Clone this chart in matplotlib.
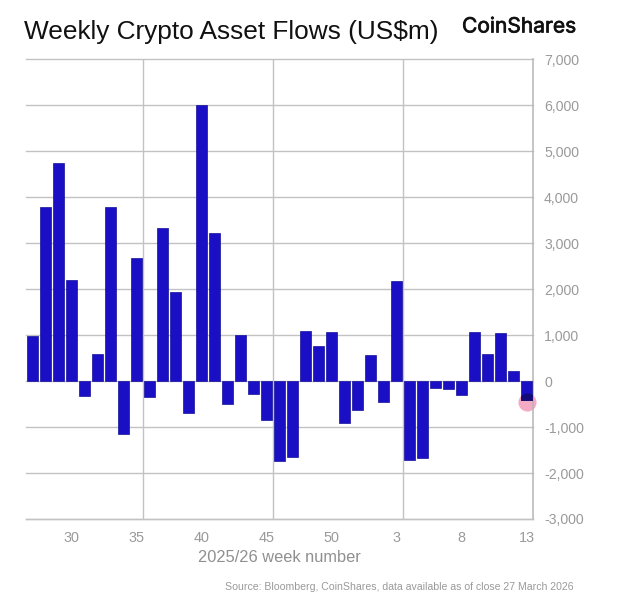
import matplotlib
matplotlib.use('Agg')
import matplotlib.pyplot as plt
import matplotlib.patheffects as pe
from matplotlib.patches import Rectangle

plt.rcParams['font.family'] = ['Liberation Sans', 'DejaVu Sans']

# week numbers and weekly flows (US$m)
weeks = [27, 28, 29, 30, 31, 32, 33, 34, 35, 36, 37, 38, 39, 40, 41, 42, 43, 44, 45, 46,
         47, 48, 49, 50, 51, 52, 1, 2, 3, 4, 5, 6, 7, 8, 9, 10, 11, 12, 13]
flows = [990, 3800, 4750, 2200, -320, 590, 3790, -1140, 2690, -340, 3330, 1930, -690,
         6020, 3230, -490, 1010, -290, -840, -1730, -1640, 1100, 770, 1080, -910, -630,
         570, -450, 2180, -1720, -1670, -140, -160, -300, 1070, 590, 1050, 220, -410]
y_ticks = [-3000, -2000, -1000, 0, 1000, 2000, 3000, 4000, 5000, 6000, 7000]
x_labelled = [30, 35, 40, 45, 50, 3, 8, 13]
marker_value = -460

W, H = 624, 601
BAR = '#1a0fc4'
GRID = '#c2c2c2'
TEXT = '#9a9a9a'

fig = plt.figure(figsize=(W / 100, H / 100), dpi=100, facecolor='white')
ax = fig.add_axes([26 / W, 1 - 519 / H, 507 / W, (519 - 59.5) / H])

x = list(range(len(weeks)))
ax.set_xlim(-0.5, len(weeks) - 0.5)
ax.set_ylim(-3000, 7000)

# grid
ax.set_axisbelow(True)
for v in y_ticks:
    ax.axhline(v, color=GRID, lw=1.0, zorder=1, clip_on=False)
for pos in range(8, len(weeks) - 1, 10):
    ax.axvline(pos + 0.5, color=GRID, lw=1.0, zorder=1)

for side in ['left', 'top']:
    ax.spines[side].set_visible(False)
ax.spines['right'].set_color('#b5b5b5')
ax.spines['right'].set_linewidth(1.1)
ax.spines['bottom'].set_color(GRID)
ax.spines['bottom'].set_linewidth(1.0)

# latest week highlight sits behind the bar, darker where they overlap
ax.scatter(x[-1], marker_value, s=170, color='#f4a9c4', linewidths=0, zorder=2, clip_on=False)
bars = ax.bar(x, flows, width=0.8, color=BAR, edgecolor='#14109a', linewidth=0.5, zorder=3)
dark = ax.scatter(x[-1], marker_value, s=170, color='#120a60', alpha=0.75, linewidths=0, zorder=4)
last = bars[-1]
dark.set_clip_path(Rectangle(last.get_xy(), last.get_width(), last.get_height(),
                             transform=ax.transData))

ax.yaxis.tick_right()
ax.set_yticks(y_ticks)
ax.set_yticklabels([f'{v:,}' for v in y_ticks])
ax.set_xticks([weeks.index(w) for w in x_labelled])
ax.set_xticklabels([str(w) for w in x_labelled])
ax.tick_params(axis='y', length=0, pad=8, labelsize=10.2, labelcolor=TEXT)
ax.tick_params(axis='x', length=0, pad=9, labelsize=10.4, labelcolor=TEXT)

fig.text(24 / W, 1 - 31.5 / H, 'Weekly Crypto Asset Flows (US$m)', fontsize=18.9,
         color='#111111', ha='left', va='center')
logo = fig.text(462 / W, 1 - 26.5 / H, 'CoinShares', fontsize=15.1, family=['Inter', 'Liberation Sans'],
                color='#111111', ha='left', va='center')
logo.set_path_effects([pe.withStroke(linewidth=0.5, foreground='#111111')])
fig.text(279 / W, 1 - 557 / H, '2025/26 week number', fontsize=11.8,
         color='#8f8f8f', ha='center', va='center')
fig.text(574 / W, 1 - 587 / H, 'Source: Bloomberg, CoinShares, data available as of close 27 March 2026',
         fontsize=7.6, color=TEXT, ha='right', va='center')

fig.savefig('out.png', dpi=100, facecolor='white')
